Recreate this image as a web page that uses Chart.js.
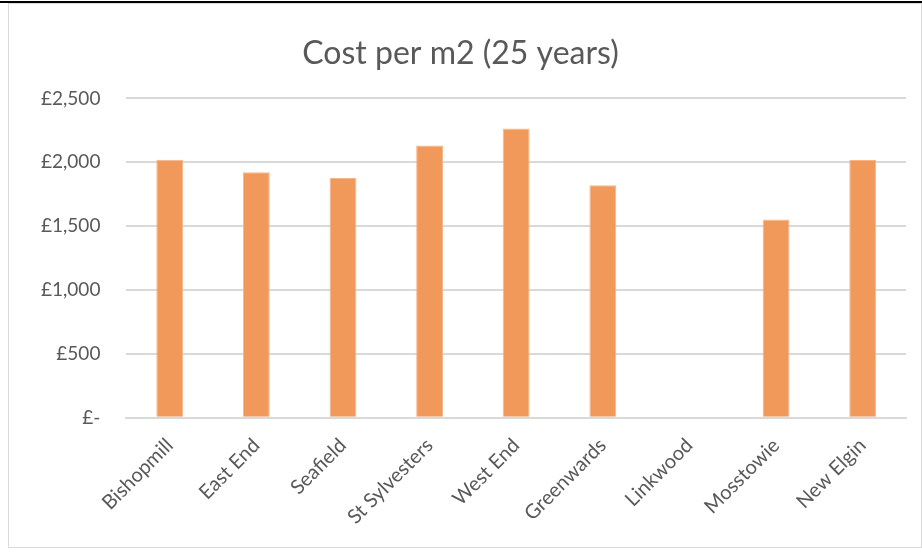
<!DOCTYPE html>
<html>
<head>
<meta charset="utf-8">
<script src="https://cdn.jsdelivr.net/npm/chart.js@4/dist/chart.umd.min.js"></script>
<style>
  html, body { margin: 0; padding: 0; background: #fff; }
  body { width: 922px; height: 553px; position: relative; overflow: hidden; }
  #topline { position: absolute; left: 0; top: 1px; width: 922px; height: 2px; background: #000; }
  #box {
    position: absolute; left: 8px; top: 3px; width: 914px; height: 545px;
    border: 1px solid #d9d9d9; box-sizing: border-box; background: #fff;
  }
</style>
</head>
<body>
<div id="topline"></div>
<div id="box"><canvas id="chart"></canvas></div>
<script>
const categories = ["Bishopmill", "East End", "Seafield", "St Sylvesters", "West End",
                    "Greenwards", "Linkwood", "Mosstowie", "New Elgin"];
const costPerM2 = [2020, 1922, 1876, 2132, 2264, 1820, null, 1552, 2018];
const yTicks = [0, 500, 1000, 1500, 2000, 2500];

const textColor = "#595959";
const font = "Lato, 'Open Sans', sans-serif";

function money(v) {
  if (v === 0) return "£-";
  return "£" + v.toLocaleString("en-GB");
}

new Chart(document.getElementById("chart"), {
  type: "bar",
  data: {
    labels: categories,
    datasets: [{
      label: "Cost per m2",
      data: costPerM2,
      backgroundColor: "#F0995A",
      borderColor: "#F5B78A",
      borderWidth: 1,
      barPercentage: 0.31,
      categoryPercentage: 1
    }]
  },
  options: {
    responsive: true,
    maintainAspectRatio: false,
    animation: false,
    layout: { padding: { left: 6, right: 15, top: 0, bottom: 10 } },
    plugins: {
      legend: { display: false },
      tooltip: { enabled: false },
      title: {
        display: true,
        text: "Cost per m2 (25 years)",
        color: textColor,
        font: { family: font, size: 32, weight: "normal" },
        padding: { top: 30, bottom: 26 }
      }
    },
    scales: {
      x: {
        grid: { display: false },
        border: { color: "#d9d9d9", width: 2 },
        ticks: {
          color: textColor,
          font: { family: font, size: 20 },
          minRotation: 45,
          maxRotation: 45,
          padding: 8
        }
      },
      y: {
        min: 0,
        max: 2500,
        afterBuildTicks: axis => { axis.ticks = yTicks.map(v => ({ value: v })); },
        grid: { color: "#d9d9d9", lineWidth: 2, drawTicks: false },
        border: { display: false },
        ticks: {
          color: textColor,
          font: { family: font, size: 19 },
          padding: 26,
          callback: v => money(v)
        }
      }
    }
  }
});
</script>
</body>
</html>
